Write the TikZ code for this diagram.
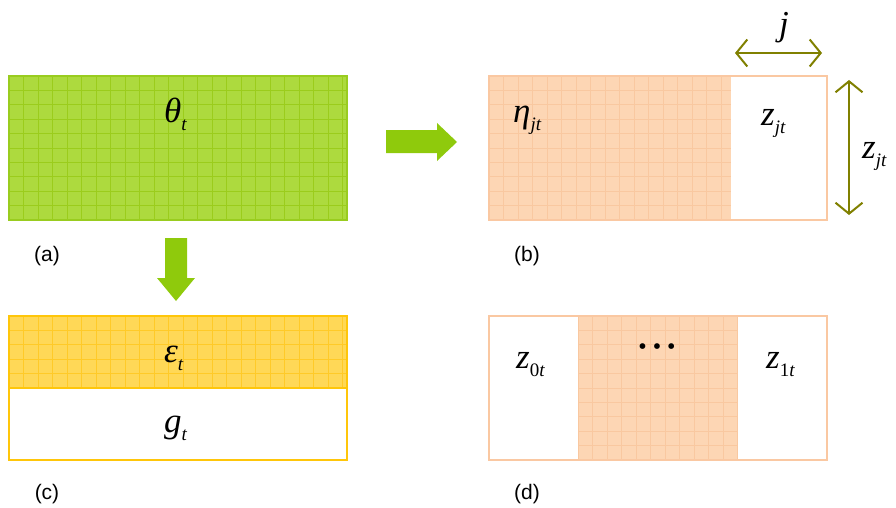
\documentclass[tikz,border=0pt]{standalone}
\usepackage{fontspec}
\setmainfont{Liberation Serif}
\newfontfamily\labfont{Liberation Sans}
\usetikzlibrary{arrows.meta}
\definecolor{gfill}{HTML}{ADDA3E}
\definecolor{ggrid}{HTML}{9BCC1C}
\definecolor{gedge}{HTML}{99CC1F}
\definecolor{ofill}{HTML}{FDD6B4}
\definecolor{ogrid}{HTML}{F9C8A0}
\definecolor{oedge}{HTML}{FAC8A2}
\definecolor{yfill}{HTML}{FFD857}
\definecolor{ygrid}{HTML}{FFCA28}
\definecolor{yedge}{HTML}{FFC60A}
\definecolor{arrowgreen}{HTML}{8FCA0C}
\definecolor{olive}{HTML}{808000}
\newcommand\sv[2]{\textit{#1}\raisebox{-8pt}{\fontsize{19}{19}\selectfont\textit{#2}}}
\newcommand\gridin[5]{%
  \begin{scope}
    \clip (#1,#2) rectangle (#3,#4);
    \foreach \gx in {0,...,24}{\draw[#5] ({#1+14.5*\gx},#2) -- ({#1+14.5*\gx},#4);}
    \foreach \gy in {0,...,10}{\draw[#5] (#1,{#2+14.4*\gy}) -- (#3,{#2+14.4*\gy});}
  \end{scope}}
\tikzset{
  panel/.style={rectangle, inner sep=0pt, anchor=north west, draw=none},
  gl/.style={line width=0.8pt},
  edge/.style={line width=2pt},
  sym/.style={inner sep=0pt, anchor=base west, font=\fontsize{35}{35}\selectfont},
  lab/.style={inner sep=0pt, font=\labfont\fontsize{21}{21}\selectfont},
  bigarrow/.style={fill=arrowgreen, draw=none},
  dim/.style={draw=olive, line width=2pt, {Straight Barb[length=11pt,width=27pt]}-{Straight Barb[length=11pt,width=27pt]}}
}
\begin{document}
\begin{tikzpicture}[x=1pt,y=-1pt]
\useasboundingbox (0,0) rectangle (896,508);
% (a)
\node[panel, fill=gfill, minimum width=338pt, minimum height=144pt] (A) at (9,76) {};
\gridin{9}{76}{347}{220}{gl,ggrid}
\draw[edge, gedge] (A.north west) rectangle (A.south east);
\node[sym] (theta) at (164,122) {\sv{θ}{t}};
\node[lab] (la) at (47,256) {(a)};
% (b)
\node[panel, fill=ofill, minimum width=338pt, minimum height=144pt] (B) at (489,76) {};
\gridin{489}{76}{731}{220}{gl,ogrid}
\node[panel, fill=white, minimum width=96pt, minimum height=144pt] (Bw) at (731,76) {};
\draw[edge, oedge] (B.north west) rectangle (B.south east);
\node[sym] (eta) at (513,122) {\sv{η}{jt}};
\node[sym] (zb) at (761,125) {\sv{z}{jt}};
\node[lab] (lb) at (527,256) {(b)};
% dimension arrows
\coordinate (h1) at (735,53);
\coordinate (h2) at (822,53);
\draw[dim] (h1) -- (h2);
\node[sym, anchor=base] (jl) at (784,36) {\textit{j}};
\coordinate (v1) at (849,80);
\coordinate (v2) at (849,215);
\draw[dim] (v1) -- (v2);
\node[sym] (zr) at (862,158) {\sv{z}{jt}};
% (c)
\node[panel, fill=white, minimum width=338pt, minimum height=144pt] (C) at (9,316) {};
\node[panel, fill=yfill, minimum width=338pt, minimum height=72pt] (Cy) at (9,316) {};
\gridin{9}{316}{347}{388}{gl,ygrid}
\draw[edge, yedge] (C.north west) rectangle (C.south east);
\draw[edge, yedge] (Cy.south west) -- (Cy.south east);
\node[sym] (eps) at (164,362) {\sv{ε}{t}};
\node[sym] (g) at (164,432) {\sv{g}{t}};
\node[lab] (lc) at (47,494) {(c)};
% (d)
\node[panel, fill=white, minimum width=338pt, minimum height=144pt] (D) at (489,316) {};
\node[panel, fill=ofill, minimum width=160pt, minimum height=144pt] (Dm) at (578,316) {};
\gridin{578}{316}{738}{460}{gl,ogrid}
\draw[edge, oedge] (D.north west) rectangle (D.south east);
\node[sym] (z0) at (516,368) {\textit{z}\raisebox{-8pt}{\fontsize{19}{19}\selectfont 0\textit{t}}};
\node[inner sep=0pt, font=\fontsize{24}{24}\selectfont] (dots) at (657,349) {•\hspace{6pt}•\hspace{6pt}•};
\node[sym] (z1) at (766,368) {\textit{z}\raisebox{-8pt}{\fontsize{19}{19}\selectfont 1\textit{t}}};
\node[lab] (ld) at (527,494) {(d)};
% green arrows
\draw[bigarrow] (165,238) -- (187,238) -- (187,278) -- (195,278) -- (176,301) -- (157,278) -- (165,278) -- cycle;
\draw[bigarrow] (386,130) -- (437,130) -- (437,123) -- (457,142) -- (437,161) -- (437,153) -- (386,153) -- cycle;
\end{tikzpicture}
\end{document}
